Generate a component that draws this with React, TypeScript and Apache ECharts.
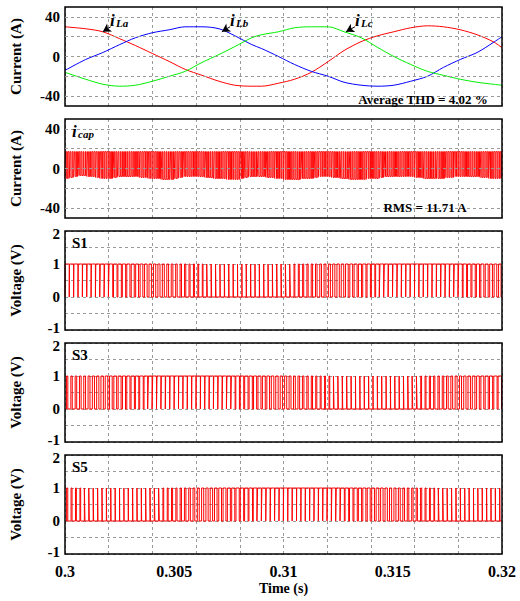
import React, { useEffect, useRef } from "react";
import * as echarts from "echarts";

// ---------- data ----------
const T_START = 0.3;
const T_END = 0.32;
const T_SW = 0.0002; // switching period (s)

const X_LABEL_STEP = 0.005;
const X_GRID_STEP = 0.002;
const I_GRID = [-40, -20, 0, 20, 40];
const I_LABELS = [-40, 0, 40];
const V_MIN = -1;
const V_MAX = 2;

// sample times of the phase-current readings
const TIME_L = [
  0.3, 0.30095, 0.30173, 0.3025, 0.30323, 0.304, 0.30477, 0.3055, 0.30627, 0.30705,
  0.30777, 0.30855, 0.309, 0.30977, 0.3105, 0.31127, 0.31205, 0.31277, 0.31355, 0.31432,
  0.31505, 0.31582, 0.31659, 0.31732, 0.31809, 0.31886, 0.31959, 0.32,
];
const I_LA = [30, 28, 25, 18, 11, 3, -5, -13, -19, -25, -29, -30, -30, -27, -23, -16, -5, 6, 15, 21, 25, 29, 31, 30, 27, 22, 15, 9];
const I_LB = [-14, -3, 4, 12, 19, 24, 27, 30, 30, 28, 21, 12, 8, 0, -8, -15, -20, -26, -29, -30, -29, -25, -20, -11, -3, 4, 14, 20];
const I_LC = [-16, -23, -28, -30, -29, -25, -20, -15, -6, 2, 10, 19, 22, 25, 29, 30, 30, 25, 19, 9, 0, -8, -15, -19, -23, -26, -28, -29];

// capacitor current: low level and pulse width per switching period
const ICAP_HIGH = 17;
const ICAP_LOW = [
  -10, -9, -8, -7, -7, -8, -8, -9, -10, -10,
  -10, -9, -8, -8, -8, -8, -8, -9, -9, -10,
  -10, -10, -11, -11, -11, -10, -9, -8, -8, -8,
  -8, -8, -9, -9, -10, -10, -10, -11, -11, -11,
  -10, -9, -8, -8, -8, -8, -9, -9, -10, -10,
  -11, -11, -11, -11, -10, -10, -10, -9, -8, -8,
  -8, -9, -9, -10, -10, -11, -11, -11, -11, -10,
  -10, -10, -9, -8, -8, -8, -8, -8, -8, -8,
  -9, -9, -10, -10, -10, -10, -10, -9, -9, -8,
  -8, -8, -8, -8, -8, -9, -9, -10, -10, -10,
];
const ICAP_W = [
  0.55, 0.42, 0.38, 0.47, 0.33, 0.41, 0.52, 0.46, 0.58, 0.6,
  0.5, 0.44, 0.36, 0.43, 0.39, 0.48, 0.55, 0.51, 0.62, 0.57,
  0.53, 0.47, 0.41, 0.35, 0.38, 0.44, 0.49, 0.56, 0.52, 0.6,
  0.54, 0.46, 0.42, 0.37, 0.45, 0.41, 0.53, 0.58, 0.61, 0.55,
  0.5, 0.45, 0.39, 0.34, 0.4, 0.47, 0.43, 0.52, 0.57, 0.62,
  0.56, 0.49, 0.44, 0.38, 0.42, 0.46, 0.54, 0.5, 0.59, 0.63,
  0.55, 0.48, 0.4, 0.36, 0.33, 0.41, 0.47, 0.51, 0.56, 0.6,
  0.52, 0.45, 0.43, 0.37, 0.44, 0.49, 0.46, 0.55, 0.6, 0.58,
  0.54, 0.47, 0.41, 0.39, 0.35, 0.42, 0.48, 0.53, 0.57, 0.61,
  0.56, 0.5, 0.44, 0.4, 0.43, 0.47, 0.52, 0.49, 0.58, 0.6,
];

// gate signals: duty ratio per switching period
const S1_DUTY = [
  0.94, 0.95, 0.95, 0.95, 0.94, 0.93, 0.92, 0.9, 0.88, 0.86,
  0.84, 0.81, 0.78, 0.75, 0.72, 0.69, 0.66, 0.62, 0.59, 0.55,
  0.52, 0.48, 0.45, 0.41, 0.38, 0.35, 0.32, 0.28, 0.25, 0.22,
  0.19, 0.17, 0.14, 0.12, 0.1, 0.08, 0.07, 0.06, 0.05, 0.05,
  0.05, 0.05, 0.05, 0.05, 0.06, 0.06, 0.07, 0.08, 0.1, 0.12,
  0.14, 0.16, 0.19, 0.22, 0.25, 0.28, 0.32, 0.35, 0.39, 0.43,
  0.46, 0.5, 0.54, 0.57, 0.61, 0.64, 0.68, 0.71, 0.74, 0.77,
  0.8, 0.83, 0.85, 0.87, 0.89, 0.91, 0.92, 0.93, 0.94, 0.95,
  0.95, 0.95, 0.95, 0.95, 0.94, 0.93, 0.92, 0.9, 0.88, 0.86,
  0.84, 0.81, 0.78, 0.75, 0.72, 0.69, 0.66, 0.63, 0.6, 0.57,
];
const S3_DUTY = [
  0.29, 0.32, 0.35, 0.38, 0.41, 0.44, 0.48, 0.51, 0.55, 0.58,
  0.61, 0.64, 0.67, 0.7, 0.73, 0.76, 0.78, 0.81, 0.83, 0.85,
  0.87, 0.89, 0.9, 0.92, 0.93, 0.94, 0.94, 0.95, 0.95, 0.95,
  0.95, 0.94, 0.94, 0.93, 0.92, 0.9, 0.89, 0.87, 0.85, 0.82,
  0.8, 0.77, 0.74, 0.71, 0.68, 0.65, 0.62, 0.58, 0.55, 0.51,
  0.48, 0.44, 0.41, 0.38, 0.34, 0.31, 0.28, 0.25, 0.22, 0.19,
  0.17, 0.14, 0.12, 0.1, 0.09, 0.07, 0.06, 0.05, 0.05, 0.05,
  0.05, 0.05, 0.05, 0.05, 0.06, 0.07, 0.08, 0.1, 0.12, 0.14,
  0.16, 0.19, 0.22, 0.25, 0.28, 0.31, 0.34, 0.38, 0.41, 0.45,
  0.48, 0.52, 0.55, 0.59, 0.62, 0.66, 0.69, 0.72, 0.75, 0.78,
];
const S5_DUTY = [
  0.26, 0.23, 0.2, 0.17, 0.14, 0.12, 0.1, 0.08, 0.07, 0.06,
  0.05, 0.05, 0.05, 0.05, 0.05, 0.06, 0.07, 0.08, 0.09, 0.11,
  0.13, 0.15, 0.18, 0.21, 0.24, 0.27, 0.3, 0.34, 0.37, 0.41,
  0.44, 0.48, 0.51, 0.55, 0.58, 0.62, 0.65, 0.68, 0.71, 0.74,
  0.77, 0.8, 0.82, 0.84, 0.86, 0.88, 0.9, 0.91, 0.92, 0.93,
  0.94, 0.95, 0.95, 0.95, 0.95, 0.95, 0.94, 0.94, 0.93, 0.91,
  0.9, 0.88, 0.86, 0.84, 0.82, 0.79, 0.76, 0.73, 0.7, 0.67,
  0.63, 0.6, 0.56, 0.53, 0.49, 0.46, 0.42, 0.39, 0.35, 0.32,
  0.29, 0.26, 0.23, 0.2, 0.17, 0.15, 0.13, 0.11, 0.09, 0.08,
  0.07, 0.06, 0.06, 0.05, 0.05, 0.05, 0.05, 0.05, 0.06, 0.06,
];

// arrow annotations (tail -> head in data coords)
const ARROWS = [
  [[0.30209, 30], [0.30173, 25]],
  [[0.30755, 30], [0.30718, 25]],
  [[0.31327, 30], [0.31286, 25]],
];

// ---------- builders ----------
function pwmPoints(duty: number[]): [number, number][] {
  const pts: [number, number][] = [[T_START, 0]];
  duty.forEach((d, k) => {
    const c = T_START + (k + 0.5) * T_SW;
    const on = c - (d * T_SW) / 2;
    const off = c + (d * T_SW) / 2;
    pts.push([on, 0], [on, 1], [off, 1], [off, 0]);
  });
  pts.push([T_END, 0]);
  return pts;
}

function icapPoints(): [number, number][] {
  const pts: [number, number][] = [];
  ICAP_LOW.forEach((L, k) => {
    for (let h = 0; h < 2; h++) {
      const start = T_START + k * T_SW + (h * T_SW) / 2;
      const c = start + T_SW / 4;
      const w = (ICAP_W[k] * T_SW) / 2;
      pts.push([start, L], [c - w / 2, L], [c - w / 2, ICAP_HIGH], [c + w / 2, ICAP_HIGH], [c + w / 2, L]);
    }
  });
  pts.push([T_END, ICAP_LOW[ICAP_LOW.length - 1]]);
  return pts;
}

const FONT = "'Liberation Serif', 'Times New Roman', serif";
const GRID_LINE = { type: [3, 3] as number[], color: "#9a9a9a", width: 1 };

export default function App() {
  const ref = useRef<HTMLDivElement>(null);

  useEffect(() => {
    if (!ref.current) return;
    const chart = echarts.init(ref.current, undefined, { renderer: "svg" });

    const tops = [7, 119, 231, 343, 455];
    const H = 99;
    const kinds = ["current", "current", "volt", "volt", "volt"];

    const grids = tops.map((t) => ({
      left: 62,
      right: 18,
      top: t,
      height: H,
      show: true,
      borderColor: "#000",
      borderWidth: 1.5,
      backgroundColor: "transparent",
      z: 5,
    }));

    const xAxes: any[] = [];
    tops.forEach((_, i) => {
      const last = i === tops.length - 1;
      xAxes.push({
        type: "value",
        gridIndex: i,
        position: "bottom",
        min: T_START,
        max: T_END,
        interval: X_LABEL_STEP,
        axisLine: { show: false },
        axisTick: { show: false },
        splitLine: { show: false },
        axisLabel: {
          show: last,
          margin: 9,
          color: "#000",
          fontFamily: FONT,
          fontWeight: "bold",
          fontSize: 16,
          formatter: (v: number) => String(+v.toFixed(3)),
        },
        name: last ? "Time (s)" : "",
        nameLocation: "middle",
        nameGap: 27,
        nameTextStyle: { color: "#000", fontFamily: FONT, fontWeight: "bold", fontSize: 14 },
      });
      xAxes.push({
        type: "value",
        gridIndex: i,
        position: "top",
        min: T_START,
        max: T_END,
        interval: X_GRID_STEP,
        axisLine: { show: false },
        axisTick: { show: false },
        axisLabel: { show: false },
        splitLine: { show: true, lineStyle: GRID_LINE },
      });
    });

    const labStyle = { color: "#000", fontFamily: FONT, fontWeight: "bold", fontSize: 15, lineHeight: 12 };

    const yAxes = kinds.map((k, i) => {
      const base = {
        type: "value",
        gridIndex: i,
        axisLine: { show: false },
        axisTick: { show: false },
        nameLocation: "middle",
        nameGap: 42,
        nameTextStyle: { color: "#000", fontFamily: FONT, fontWeight: "bold", fontSize: 15 },
      };
      if (k === "current") {
        return {
          ...base,
          min: -50,
          max: 50,
          interval: 10,
          name: "Current (A)",
          splitLine: { show: false },
          axisLabel: {
            margin: 5,
            ...labStyle,
            formatter: (v: number) => {
              const r = Math.round(v);
              return Math.abs(v - r) < 1e-6 && I_LABELS.includes(r) ? String(r) : "";
            },
          },
        };
      }
      return {
        ...base,
        min: V_MIN,
        max: V_MAX,
        interval: 0.5,
        name: "Voltage (V)",
        splitLine: { show: true, lineStyle: GRID_LINE },
        axisLabel: {
          margin: 5,
          ...labStyle,
          formatter: (v: number) => {
            const r = Math.round(v);
            if (Math.abs(v - r) > 1e-6) return "";
            if (r === V_MAX) return `{hi|${r}}`;
            if (r === V_MIN) return `{lo|${r}}`;
            return String(r);
          },
          rich: {
            hi: { ...labStyle, padding: [5, 0, 0, 0] },
            lo: { ...labStyle, padding: [0, 0, 5, 0] },
          },
        },
      };
    });

    const gridMark = {
      silent: true,
      symbol: ["none", "none"],
      label: { show: false },
      lineStyle: GRID_LINE,
      emphasis: { disabled: true },
      data: I_GRID.map((v) => ({ yAxis: v })),
    };

    const line = (data: any, color: string, xi: number, yi: number, extra: any = {}) => ({
      type: "line",
      data,
      xAxisIndex: xi,
      yAxisIndex: yi,
      showSymbol: false,
      symbol: "none",
      lineStyle: { color, width: 1 },
      itemStyle: { color },
      emphasis: { disabled: true },
      z: 3,
      ...extra,
    });

    const zip = (vals: number[]) => TIME_L.map((t, i) => [t, vals[i]]);

    const series: any[] = [
      line(zip(I_LA), "#ff0000", 0, 0, { smooth: 0.3 }),
      line(zip(I_LB), "#0000ff", 0, 0, {
        smooth: 0.3,
        markLine: {
          silent: true,
          symbol: ["none", "arrow"],
          symbolSize: [7, 8],
          label: { show: false },
          lineStyle: { color: "#000", width: 1, type: "solid" },
          emphasis: { disabled: true },
          data: ARROWS.map(([a, b]) => [{ coord: a }, { coord: b }]),
        },
      }),
      line(zip(I_LC), "#00ee00", 0, 0, { smooth: 0.3, markLine: gridMark }),
      line(icapPoints(), "#ff0000", 2, 1, { markLine: gridMark }),
      line(pwmPoints(S1_DUTY), "#ff0000", 4, 2),
      line(pwmPoints(S3_DUTY), "#ff0000", 6, 3),
      line(pwmPoints(S5_DUTY), "#ff0000", 8, 4),
    ];

    const txt = (x: number, y: number, text: string, font: string, align = "left") => ({
      type: "text",
      x,
      y,
      z: 20,
      style: { text, font, fill: "#000", textAlign: align, textVerticalAlign: "middle" },
    });
    const iMain = `italic bold 17px ${FONT}`;
    const iSub = `italic bold 11px ${FONT}`;
    const note = `bold 13px ${FONT}`;
    const sLab = `bold 15px ${FONT}`;

    const graphic = [
      txt(110, 20, "i", iMain),
      txt(116, 23, "La", iSub),
      txt(230, 20, "i", iMain),
      txt(236, 23, "Lb", iSub),
      txt(355, 20, "i", iMain),
      txt(361, 23, "Lc", iSub),
      txt(423, 99, "Average THD = 4.02 %", note, "center"),
      txt(72, 131, "i", iMain),
      txt(78, 134, "cap", iSub),
      txt(425, 207, "RMS = 11.71 A", note, "center"),
      txt(72, 243, "S1", sLab),
      txt(72, 355, "S3", sLab),
      txt(72, 467, "S5", sLab),
    ];

    chart.setOption({
      animation: false,
      backgroundColor: "#fff",
      grid: grids,
      xAxis: xAxes,
      yAxis: yAxes,
      series,
      graphic,
    });

    return () => chart.dispose();
  }, []);

  return (
    <div
      ref={ref}
      style={{ position: "fixed", left: 0, top: 0, width: 520, height: 601, background: "#fff" }}
    />
  );
}
